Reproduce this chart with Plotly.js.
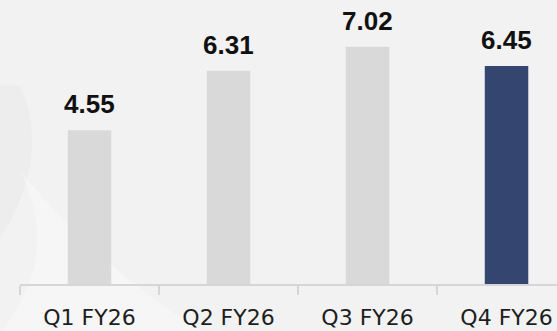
<!DOCTYPE html>
<html>
<head>
<meta charset="utf-8">
<script src="https://cdn.plot.ly/plotly-3.0.1.min.js"></script>
<style>
html,body{margin:0;padding:0;background:#f2f2f2;}
#chart{width:557px;height:331px;}
</style>
</head>
<body>
<div id="chart"></div>
<script>
const categories = ["Q1 FY26", "Q2 FY26", "Q3 FY26", "Q4 FY26"];
const values = [4.55, 6.31, 7.02, 6.45];
const valueLabels = ["4.55", "6.31", "7.02", "6.45"];
const barColors = ["#d9d9d9", "#d9d9d9", "#d9d9d9", "#34456f"];

const trace = {
  type: "bar",
  x: categories,
  y: values,
  marker: {color: barColors, line: {width: 0}},
  hoverinfo: "skip"
};

const annotations = categories.map((c, i) => ({
  x: c, y: values[i], xref: "x", yref: "y",
  text: valueLabels[i], showarrow: false,
  yanchor: "bottom", yshift: 9,
  font: {family: "Liberation Sans, Arial, sans-serif", size: 26, color: "#111111", weight: 700}
}));

const layout = {
  width: 557, height: 331,
  margin: {l: 20, r: 0, t: 0, b: 47, pad: 0},
  paper_bgcolor: "#f2f2f2",
  plot_bgcolor: "rgba(0,0,0,0)",
  bargap: 0.687,
  showlegend: false,
  xaxis: {
    type: "category",
    range: [-0.5, 3.363],
    showgrid: false, zeroline: false,
    showline: true, linecolor: "#d6d6d6", linewidth: 1.5,
    ticks: "outside", tickson: "boundaries", ticklen: 9, tickcolor: "#d6d6d6", tickwidth: 1.5,
    ticklabelstandoff: 13,
    tickfont: {family: "DejaVu Sans, sans-serif", size: 22, color: "#1e1e1e"},
    fixedrange: true
  },
  yaxis: {
    range: [0, 8.402],
    visible: false, showgrid: false, zeroline: false, fixedrange: true
  },
  shapes: [
    {type: "path", xref: "paper", yref: "paper", layer: "below",
     path: "M -0.04 0.15 Q 0.06 0.45 0.0 0.7 L -0.04 0.7 Z",
     fillcolor: "#e6e6e6", opacity: 0.4, line: {width: 0}},
    {type: "path", xref: "paper", yref: "paper", layer: "below",
     path: "M -0.04 -0.18 Q 0.08 0.1 0.0 0.4 Q 0.15 0.05 0.35 -0.18 Z",
     fillcolor: "#ffffff", opacity: 0.3, line: {width: 0}}
  ],
  annotations: annotations
};

Plotly.newPlot("chart", [trace], layout, {displayModeBar: false, staticPlot: true});
</script>
</body>
</html>
